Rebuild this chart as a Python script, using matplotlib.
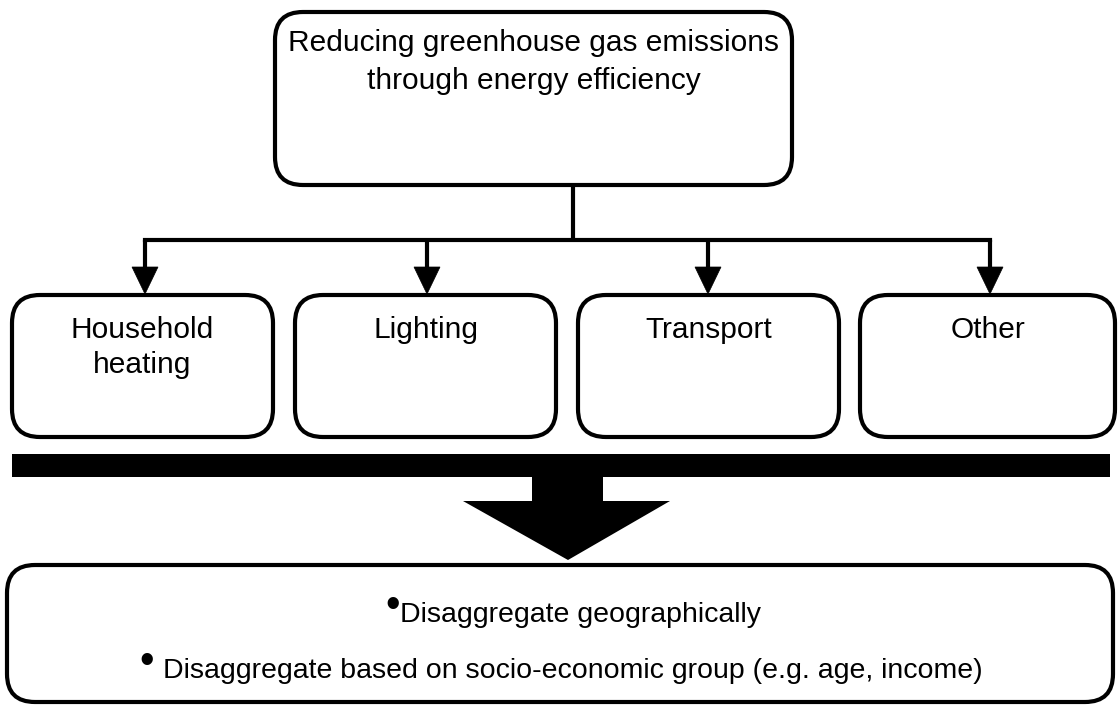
import matplotlib
matplotlib.use("Agg")
import matplotlib.pyplot as plt
from matplotlib.patches import FancyBboxPatch, Polygon

plt.rcParams['font.family'] = ['Liberation Sans', 'DejaVu Sans']

# diagram content
top_label = "Reducing greenhouse gas emissions\nthrough energy efficiency"
sector_labels = ["Household\nheating", "Lighting", "Transport", "Other"]
bullet_items = ["Disaggregate geographically",
                "Disaggregate based on socio-economic group (e.g. age, income)"]

# layout in pixel units (origin top-left)
W, H = 1120, 706
lw = 3.0
top_box = (275, 12, 517, 173)
sector_boxes = [(12, 295, 261, 142), (295, 295, 261, 142),
                (578, 295, 261, 142), (860, 295, 255, 142)]
drop_x = [145, 427, 708, 990]
bottom_box = (7, 565, 1106, 137)

fig = plt.figure(figsize=(W / 100, H / 100), dpi=100)
ax = fig.add_axes([0, 0, 1, 1])
ax.set_xlim(0, W)
ax.set_ylim(H, 0)
ax.axis('off')


def rbox(x, y, w, h, r=28):
    ax.add_patch(FancyBboxPatch((x, y), w, h,
                                boxstyle=f"round,pad=0,rounding_size={r}",
                                fc='white', ec='black', lw=lw, zorder=2))


# top box
rbox(*top_box)
tx = top_box[0] + top_box[2] / 2
ax.text(tx, 29, top_label, ha='center', va='top', fontsize=21.5,
        linespacing=1.45, zorder=3)

# connector
cx = 573
ax.plot([cx, cx], [top_box[1] + top_box[3], 240], color='black', lw=lw,
        solid_capstyle='butt', zorder=1)
ax.plot([drop_x[0], drop_x[-1]], [240, 240], color='black', lw=lw,
        solid_capstyle='projecting', zorder=1)
for x in drop_x:
    ax.plot([x, x], [240, 268], color='black', lw=lw, solid_capstyle='butt')
    ax.add_patch(Polygon([[x - 13, 267], [x + 13, 267], [x, 294]],
                         closed=True, fc='black', ec='black', lw=0.5, zorder=3))

# sector boxes
for (x, y, w, h), lab in zip(sector_boxes, sector_labels):
    rbox(x, y, w, h)
    ax.text(x + w / 2, 316, lab, ha='center', va='top', fontsize=21.5,
            linespacing=1.33, zorder=3)

# thick bar and block arrow
ax.add_patch(plt.Rectangle((12, 454), 1098, 23, fc='black', ec='none'))
ax.add_patch(Polygon([[532, 477], [603, 477], [603, 501], [670, 501],
                      [568, 560], [463, 501], [532, 501]],
                     closed=True, fc='black', ec='none'))

# bottom box with bullet list
rbox(*bottom_box)
text_x = [400, 163]
base_y = [622, 678]
bullet_pos = [(393, 606), (147, 662)]
for item, x, y, (bx, by) in zip(bullet_items, text_x, base_y, bullet_pos):
    ax.text(x, y, item, ha='left', va='baseline', fontsize=20.5, zorder=3)
    ax.text(bx, by, "\u2022", ha='center', va='center', fontsize=30, zorder=3)

fig.savefig("out.png", dpi=100)
